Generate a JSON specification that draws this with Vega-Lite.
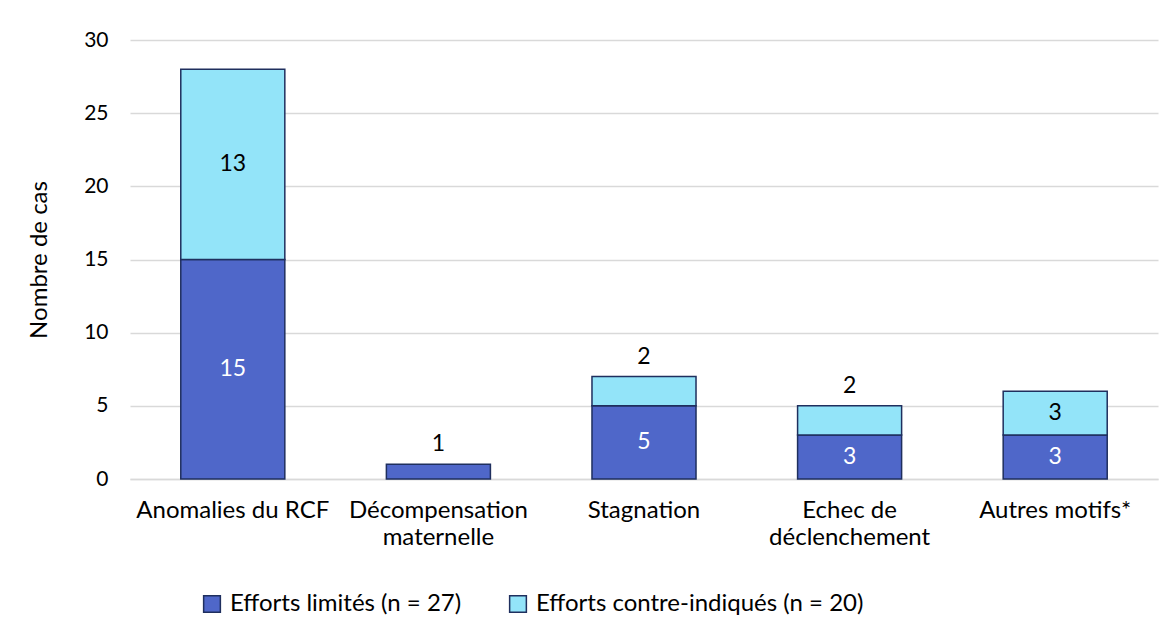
{
  "$schema": "https://vega.github.io/schema/vega-lite/v6.json",
  "autosize": {"type": "none"},
  "width": 1028,
  "height": 439,
  "padding": {"left": 130, "top": 40, "right": 15, "bottom": 165},
  "background": "white",
  "config": {
    "font": "Lato",
    "view": {"stroke": null}
  },
  "data": {
    "values": [
      {"cat": "Anomalies du RCF", "serie": "Efforts limités (n = 27)", "value": 15},
      {"cat": "Anomalies du RCF", "serie": "Efforts contre-indiqués (n = 20)", "value": 13},
      {"cat": "Décompensation maternelle", "serie": "Efforts limités (n = 27)", "value": 1},
      {"cat": "Stagnation", "serie": "Efforts limités (n = 27)", "value": 5},
      {"cat": "Stagnation", "serie": "Efforts contre-indiqués (n = 20)", "value": 2},
      {"cat": "Echec de déclenchement", "serie": "Efforts limités (n = 27)", "value": 3},
      {"cat": "Echec de déclenchement", "serie": "Efforts contre-indiqués (n = 20)", "value": 2},
      {"cat": "Autres motifs*", "serie": "Efforts limités (n = 27)", "value": 3},
      {"cat": "Autres motifs*", "serie": "Efforts contre-indiqués (n = 20)", "value": 3}
    ]
  },
  "transform": [
    {"stack": "value", "groupby": ["cat"], "sort": [{"field": "serie", "order": "descending"}], "as": ["y0", "y1"]},
    {"calculate": "(datum.y0 + datum.y1) / 2", "as": "mid"}
  ],
  "encoding": {
    "x": {
      "field": "cat", "type": "nominal",
      "sort": ["Anomalies du RCF", "Décompensation maternelle", "Stagnation", "Echec de déclenchement", "Autres motifs*"],
      "scale": {"paddingInner": 0.494, "paddingOuter": 0.247},
      "axis": {
        "title": null, "labelAngle": 0, "ticks": false,
        "domainColor": "#D9D9D9", "domainWidth": 1.5,
        "labelFontSize": 24, "labelColor": "#000000", "labelPadding": 19,
        "labelLineHeight": 27, "labelLimit": 400,
        "labelExpr": "datum.value == 'Décompensation maternelle' ? ['Décompensation', 'maternelle'] : datum.value == 'Echec de déclenchement' ? ['Echec de', 'déclenchement'] : datum.label"
      }
    }
  },
  "layer": [
    {
      "mark": {"type": "bar", "stroke": "#1F2F5E", "strokeWidth": 1.5},
      "encoding": {
        "y": {
          "field": "y1", "type": "quantitative",
          "scale": {"domain": [0, 30]},
          "axis": {
            "title": "Nombre de cas", "titleFontSize": 24, "titleFontWeight": "normal",
            "titleColor": "#000000", "titlePadding": 32,
            "values": [0, 5, 10, 15, 20, 25, 30],
            "domain": false, "ticks": false,
            "gridColor": "#D9D9D9", "gridWidth": 1.5,
            "labelFontSize": 21, "labelColor": "#000000", "labelPadding": 22
          }
        },
        "y2": {"field": "y0"},
        "color": {
          "field": "serie", "type": "nominal",
          "sort": ["Efforts limités (n = 27)", "Efforts contre-indiqués (n = 20)"],
          "scale": {"domain": ["Efforts limités (n = 27)", "Efforts contre-indiqués (n = 20)"], "range": ["#4F67C9", "#93E4F9"]},
          "legend": {
            "title": null, "orient": "none", "direction": "horizontal",
            "legendX": 70, "legendY": 552,
            "symbolType": "square", "symbolSize": 280, "symbolStrokeColor": "#1F2F5E", "symbolStrokeWidth": 1.5,
            "symbolOpacity": 1,
            "labelFontSize": 24, "labelColor": "#000000", "labelOffset": 6,
            "columnPadding": 44, "labelLimit": 500
          }
        }
      }
    },
    {
      "transform": [{"filter": "datum.value > 2"}],
      "mark": {"type": "text", "fontSize": 23, "baseline": "middle"},
      "encoding": {
        "y": {"field": "mid", "type": "quantitative"},
        "text": {"field": "value", "type": "quantitative"},
        "color": {
          "condition": {"test": "datum.serie == 'Efforts limités (n = 27)'", "value": "#FFFFFF"},
          "value": "#000000"
        }
      }
    },
    {
      "transform": [{"filter": "datum.value <= 2"}],
      "mark": {"type": "text", "fontSize": 23, "baseline": "bottom", "dy": -8, "color": "#000000"},
      "encoding": {
        "y": {"field": "y1", "type": "quantitative"},
        "text": {"field": "value", "type": "quantitative"}
      }
    }
  ]
}
